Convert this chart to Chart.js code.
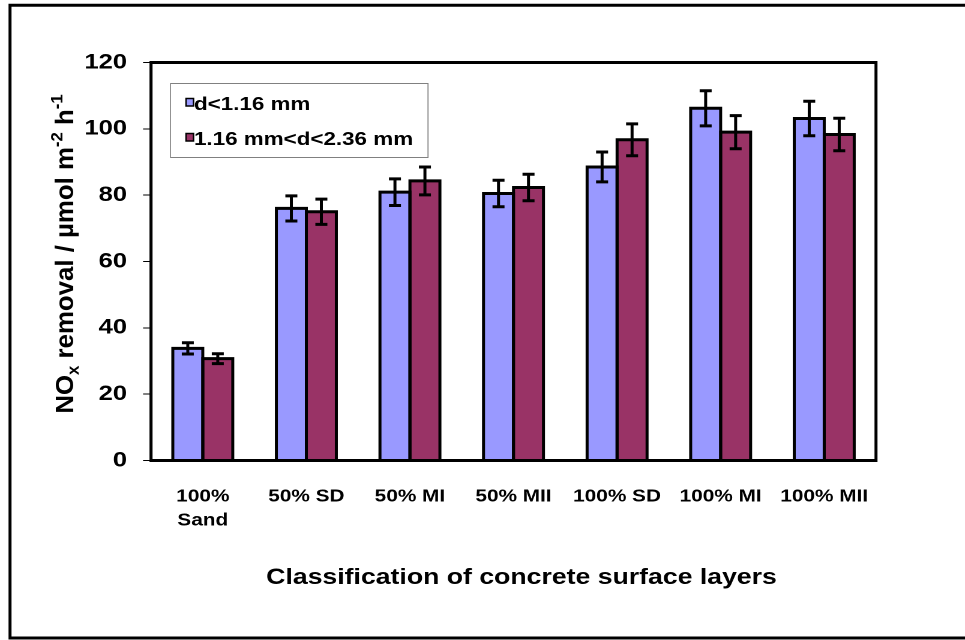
<!DOCTYPE html>
<html><head><meta charset="utf-8">
<script src="https://cdn.jsdelivr.net/npm/chart.js@4.4.1/dist/chart.umd.min.js"></script>
<style>
html,body{margin:0;padding:0;background:#fff;overflow:hidden;width:965px;height:640px;}
#wrap{position:absolute;left:0;top:0;width:804px;height:640px;transform:scaleX(1.2002);transform-origin:0 0;}
</style></head><body>
<div id="wrap"><canvas id="c"></canvas></div>
<script>
// ---- data ----
const categories = [['100%','Sand'],'50% SD','50% MI','50% MII','100% SD','100% MI','100% MII'];
const seriesNames = ['d<1.16 mm','1.16 mm<d<2.36 mm'];
const fineValues   = [33.8, 76.0, 80.9, 80.5, 88.5, 106.2, 103.1];
const coarseValues = [30.7, 75.0, 84.3, 82.3, 96.7, 99.0, 98.3];
const fineErrors   = [1.7, 3.8, 4.0, 4.0, 4.5, 5.3, 5.2];
const coarseErrors = [1.5, 3.8, 4.2, 4.0, 4.8, 5.0, 4.9];
const yTicks = [0, 20, 40, 60, 80, 100, 120];
const xTitle = 'Classification of concrete surface layers';

// ---- style ----
const SX = 1.2002;
const FONT = "'Liberation Sans', Arial, Helvetica, sans-serif";
const colors = ['#9999FF', '#993366'];

function screenStroke(ctx, width, color, build){
  ctx.save();
  ctx.scale(1/SX, 1);
  ctx.lineWidth = width; ctx.strokeStyle = color; ctx.lineJoin = 'miter'; ctx.lineCap = 'butt';
  ctx.beginPath(); build(); ctx.stroke();
  ctx.restore();
}

const decor = {
  id: 'decor',
  afterDatasetsDraw(chart){
    const ctx = chart.ctx;
    const ys = chart.scales.y;
    chart.data.datasets.forEach((ds, i) => {
      const meta = chart.getDatasetMeta(i);
      meta.data.forEach((bar, j) => {
        const p = bar.getProps(['x','y','base','width'], true);
        const l = (p.x - p.width/2)*SX, r = (p.x + p.width/2)*SX;
        screenStroke(ctx, 3, '#000', () => {
          ctx.moveTo(l, p.base); ctx.lineTo(l, p.y); ctx.lineTo(r, p.y); ctx.lineTo(r, p.base);
        });
      });
    });
    chart.data.datasets.forEach((ds, i) => {
      const meta = chart.getDatasetMeta(i);
      meta.data.forEach((bar, j) => {
        const v = ds.data[j], e = ds.errors[j];
        const X = bar.x*SX;
        const yt = ys.getPixelForValue(v + e), yb = ys.getPixelForValue(v - e);
        screenStroke(ctx, 3, '#000', () => {
          ctx.moveTo(X, yt); ctx.lineTo(X, yb);
          ctx.moveTo(X-6, yt); ctx.lineTo(X+6, yt);
          ctx.moveTo(X-6, yb); ctx.lineTo(X+6, yb);
        });
      });
    });
  },
  afterDraw(chart){
    const ctx = chart.ctx;
    const a = chart.chartArea;
    // plot box
    screenStroke(ctx, 3, '#000', () => {
      ctx.rect(a.left*SX, a.top, (a.right-a.left)*SX, a.bottom-a.top);
    });
    // outer frame
    screenStroke(ctx, 3, '#000', () => {
      ctx.moveTo(990, 5.3); ctx.lineTo(10, 5.3); ctx.lineTo(10, 638); ctx.lineTo(990, 638);
    });
    // x title
    ctx.save();
    ctx.font = `bold 22.2px ${FONT}`; ctx.fillStyle = '#000';
    ctx.textAlign = 'center'; ctx.textBaseline = 'middle';
    ctx.fillText(xTitle, (a.left + a.right)/2 + 8/SX, 578);
    ctx.restore();
    // legend
    screenStroke(ctx, 1, '#808080', () => { ctx.rect(170.5, 83.5, 257.5, 74); });
    const rows = [{y:98.5, base:110}, {y:133.5, base:145}];
    rows.forEach((r, i) => {
      ctx.save(); ctx.scale(1/SX,1);
      ctx.fillStyle = colors[i]; ctx.fillRect(186, r.y, 7.5, 7.5);
      ctx.restore();
      screenStroke(ctx, 1.5, '#000', () => { ctx.rect(186, r.y, 7.5, 7.5); });
      ctx.save();
      ctx.font = `bold 18.67px ${FONT}`; ctx.fillStyle = '#000';
      ctx.textBaseline = 'alphabetic'; ctx.textAlign = 'left';
      ctx.fillText(seriesNames[i], 194/SX, r.base);
      ctx.restore();
    });
    // y title (rich text, rotated)
    const f = 21.33, fs = f*0.65;
    const parts = [
      {t:'NO', s:f, dy:0}, {t:'x', s:fs, dy:0.22*f}, {t:' removal / µmol m', s:f, dy:0},
      {t:'-2', s:fs, dy:-0.42*f}, {t:' h', s:f, dy:0}, {t:'-1', s:fs, dy:-0.42*f}
    ];
    ctx.save();
    let total = 0;
    parts.forEach(p => { ctx.font = `bold ${p.s}px ${FONT}`; p.w = ctx.measureText(p.t).width; total += p.w; });
    const L = 1.21;
    ctx.translate(73/SX, 254 + total*L/2);
    ctx.rotate(-Math.PI/2);
    ctx.scale(L, 1);
    ctx.fillStyle = '#000'; ctx.textBaseline = 'alphabetic'; ctx.textAlign = 'left';
    let x = 0;
    parts.forEach(p => { ctx.font = `bold ${p.s}px ${FONT}`; ctx.fillText(p.t, x, p.dy); x += p.w; });
    ctx.restore();
  }
};

new Chart(document.getElementById('c'), {
  type: 'bar',
  data: {
    labels: categories,
    datasets: [
      {label: seriesNames[0], data: fineValues, errors: fineErrors, backgroundColor: colors[0], borderWidth: 0,
       categoryPercentage: 0.579, barPercentage: 1.0},
      {label: seriesNames[1], data: coarseValues, errors: coarseErrors, backgroundColor: colors[1], borderWidth: 0,
       categoryPercentage: 0.579, barPercentage: 1.0}
    ]
  },
  options: {
    responsive: true, maintainAspectRatio: false, animation: false, devicePixelRatio: 2,
    layout: {padding: {left: 0, top: 62.5, right: 804 - 876/SX, bottom: 0}},
    plugins: {legend: {display: false}, tooltip: {enabled: false}},
    scales: {
      x: {
        grid: {display: false, drawTicks: false},
        border: {display: false},
        ticks: {color: '#000', font: {family: FONT, size: 17.33, weight: 'bold', lineHeight: 1.385},
                padding: 24, autoSkip: false, maxRotation: 0},
        title: {display: false},
        afterFit(s){ s.height = 640 - 460.5; }
      },
      y: {
        min: 0, max: 120,
        afterBuildTicks(s){ s.ticks = yTicks.map(v => ({value: v})); },
        grid: {display: true, drawOnChartArea: false, drawTicks: true, tickLength: 6.6, tickColor: '#000', tickWidth: 1},
        border: {display: false},
        ticks: {color: '#000', font: {family: FONT, size: 21.33, weight: 'bold'}, padding: 13.4},
        afterFit(s){ s.width = 151/SX; }
      }
    }
  },
  plugins: [decor]
});
</script>
</body></html>
